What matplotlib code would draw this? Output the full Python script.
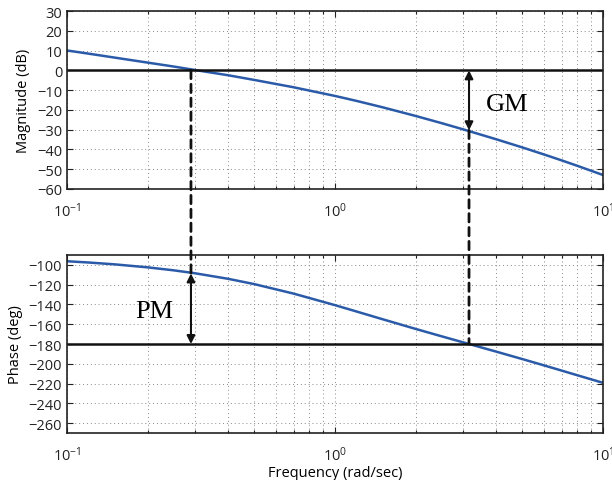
import matplotlib
matplotlib.use("Agg")
import matplotlib.pyplot as plt
from matplotlib.patches import ConnectionPatch
from matplotlib.ticker import LogLocator, NullFormatter

# ---- data ----
freq = [0.1, 0.12, 0.15, 0.2, 0.25, 0.3, 0.4, 0.5, 0.7, 1.0, 1.2, 1.5, 2.0, 2.5, 3.0,
        4.0, 5.0, 6.0, 7.0, 8.0, 10.0]
mag_db = [10.06, 8.47, 6.48, 3.91, 1.93, 0.18, -2.50, -4.86, -8.55, -12.95, -15.42, -18.64,
          -23.08, -26.72, -29.81, -34.89, -38.99, -42.48, -45.52, -48.24, -52.95]
phase_deg = [-96.28, -97.53, -99.39, -102.46, -105.47, -108.42, -114.09, -119.43, -129.00,
             -140.71, -147.04, -154.84, -164.75, -172.24, -178.26, -187.76, -195.26,
             -201.50, -206.86, -211.54, -219.29]
w_gc = 0.29        # gain crossover frequency
phase_at_gc = -108.6
w_pc = 3.16        # phase crossover frequency
mag_at_pc = -30.3
mag_ticks = [-60, -50, -40, -30, -20, -10, 0, 10, 20, 30]
phase_ticks = [-260, -240, -220, -200, -180, -160, -140, -120, -100]

plt.rcParams['font.family'] = ['Open Sans', 'DejaVu Sans']
plt.rcParams['mathtext.default'] = 'regular'

blue = '#2b5ba8'
fig = plt.figure(figsize=(6.12, 4.81), dpi=100)
ax1 = fig.add_axes([0.1095, 0.605, 0.876, 0.370])
ax2 = fig.add_axes([0.1095, 0.0977, 0.876, 0.370])

for ax in (ax1, ax2):
    ax.set_xscale('log')
    ax.set_xlim(0.1, 10)
    ax.xaxis.set_major_locator(LogLocator(base=10, numticks=10))
    ax.xaxis.set_minor_locator(LogLocator(base=10, subs=range(2, 10), numticks=10))
    ax.xaxis.set_minor_formatter(NullFormatter())
    ax.tick_params(which='both', direction='in', top=True, right=True, labelsize=10.5,
                   width=0.8, colors='#222222')
    ax.tick_params(which='major', length=4)
    ax.tick_params(which='minor', length=2.5)
    ax.tick_params(axis='x', which='major', pad=9)
    ax.grid(True, which='both', axis='x', linestyle=(0, (1, 3)), color='#888888', lw=0.7)
    ax.grid(True, which='major', axis='y', linestyle=(0, (1, 3)), color='#888888', lw=0.7)
    for s in ax.spines.values():
        s.set_linewidth(1.2)
        s.set_color('#222222')

ax1.plot(freq, mag_db, color=blue, lw=1.8)
ax1.axhline(0, color='#111111', lw=1.8)
ax1.set_ylim(-60, 30)
ax1.set_yticks(mag_ticks)
ax1.set_ylabel('Magnitude (dB)', fontsize=10.5)

ax2.plot(freq, phase_deg, color=blue, lw=1.8)
ax2.axhline(-180, color='#111111', lw=1.8)
ax2.set_ylim(-270, -90)
ax2.set_yticks(phase_ticks)
ax2.set_ylabel('Phase (deg)', fontsize=10.5)
ax2.set_xlabel('Frequency (rad/sec)', fontsize=10.5, labelpad=1)

# dashed connectors across both axes
c1 = ConnectionPatch(xyA=(w_gc, 0), coordsA=ax1.transData,
                     xyB=(w_gc, phase_at_gc), coordsB=ax2.transData,
                     color='#111111', lw=2.0, linestyle=(0, (3, 2)), zorder=5)
c2 = ConnectionPatch(xyA=(w_pc, mag_at_pc), coordsA=ax1.transData,
                     xyB=(w_pc, -180), coordsB=ax2.transData,
                     color='#111111', lw=2.0, linestyle=(0, (3, 2)), zorder=5)
fig.add_artist(c1)
fig.add_artist(c2)

# margin arrows
arrow = dict(arrowstyle='<|-|>', color='#111111', lw=1.5, mutation_scale=12,
             shrinkA=0, shrinkB=0)
ax1.annotate('', xy=(w_pc, 0), xytext=(w_pc, mag_at_pc), arrowprops=arrow)
ax2.annotate('', xy=(w_gc, phase_at_gc), xytext=(w_gc, -180), arrowprops=arrow)

ax1.text(3.65, -17, 'GM', fontsize=19, family='Liberation Serif', va='center', ha='left')
ax2.text(0.25, -147, 'PM', fontsize=19, family='Liberation Serif', va='center', ha='right')

fig.savefig('out.png', dpi=100)
